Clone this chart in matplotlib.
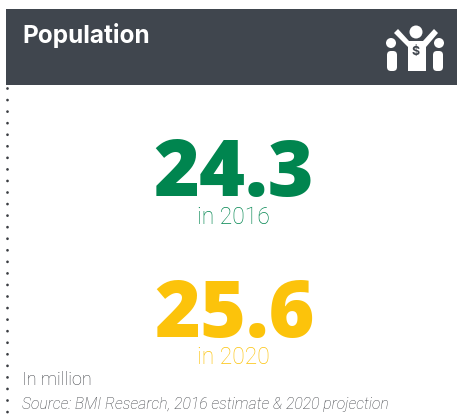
import matplotlib
matplotlib.use("Agg")
import matplotlib.pyplot as plt
from matplotlib.patches import Rectangle, Circle, FancyBboxPatch, Polygon

years = ["2016", "2020"]
population = ["24.3", "25.6"]
colors = ["#00854f", "#fcc30b"]
title = "Population"
unit_note = "In million"
source_note = "Source: BMI Research, 2016 estimate & 2020 projection"

dark = "#40464e"
grey = "#3c3f44"
W, H = 457, 418

fig = plt.figure(figsize=(W / 100, H / 100), dpi=100)
ax = fig.add_axes([0, 0, 1, 1])
ax.set_xlim(0, W)
ax.set_ylim(H, 0)
ax.axis("off")

#Header band
ax.add_patch(Rectangle((6, 9), W - 6, 76, color=dark, lw=0))
ax.text(22, 36, title, family="Inter", weight="bold", fontsize=17.5, color="white", va="center")

#Icon, three people
ax.add_patch(Circle((416, 32), 6.5, color="white", lw=0))
ax.add_patch(Circle((391, 43), 5, color="white", lw=0))
ax.add_patch(Circle((439, 43), 5, color="white", lw=0))
ax.add_patch(FancyBboxPatch((388, 52), 8, 18, boxstyle="round,pad=1,rounding_size=4", color="white", lw=0))
ax.add_patch(FancyBboxPatch((434, 52), 8, 18, boxstyle="round,pad=1,rounding_size=4", color="white", lw=0))
ax.add_patch(Polygon([(394, 33), (398, 29), (409, 41), (423, 41), (434, 29), (438, 33),
                      (426, 47), (426, 71), (408, 71), (408, 47)], color="white", lw=0))
ax.text(416, 52, "$", family="Inter", weight="bold", fontsize=9, color=dark, ha="center", va="center", parse_math=False)

#Dotted rule down the left
ax.plot([7, 7], [88, 416], color="#3a3d42", lw=2, linestyle=(0, (0.01, 4.15)), dash_capstyle="round")

#Big numbers
for value, year, color, y_num, y_year in zip(population, years, colors, [176, 317], [217, 357]):
    ax.text(234, y_num, value, family="Open Sans", weight=800, fontsize=56.5, color=color, ha="center", va="center")
    ax.text(233, y_year, "in " + year, family="Roboto", weight="light", fontsize=16.5, color=color, ha="center", va="center")

ax.text(22, 380, unit_note, family="Roboto", weight="light", fontsize=13, color=grey, va="center")
ax.text(22, 404, source_note, family="Roboto", weight="light", style="italic", fontsize=11.3, color=grey, va="center")

fig.savefig("out.png", dpi=100)
